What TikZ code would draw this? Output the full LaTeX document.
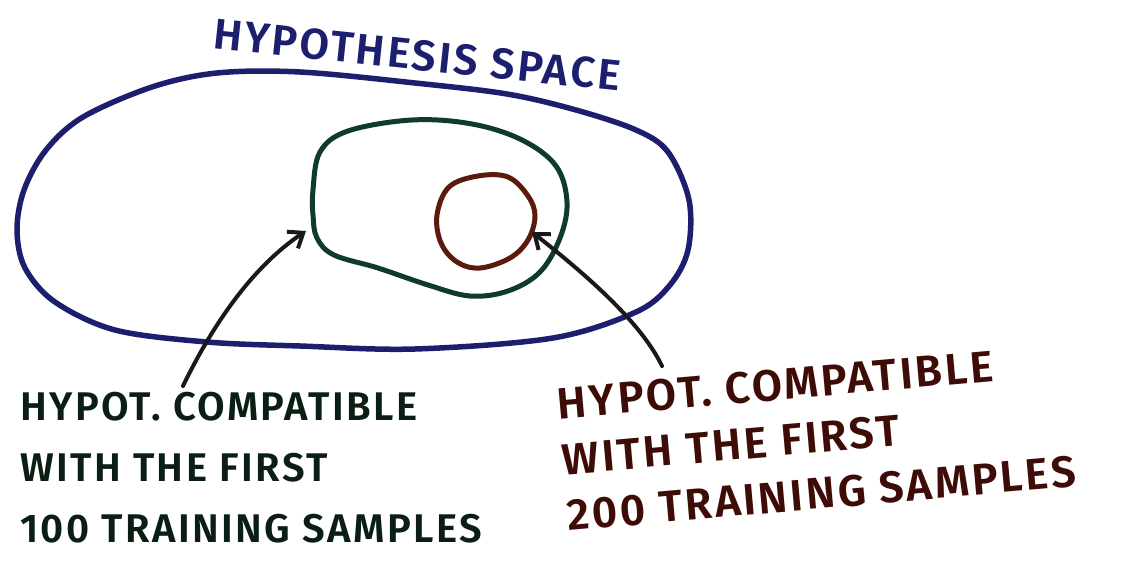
\documentclass[tikz,border=0pt]{standalone}
\usepackage{fontspec}
\setmainfont{Fira Sans}
\newfontfamily\handfont[LetterSpace=6]{Fira Sans SemiBold}
\usetikzlibrary{arrows.meta}
\definecolor{navyblue}{HTML}{1C1F6E}
\definecolor{setgreen}{HTML}{0E3B2C}
\definecolor{setred}{HTML}{5A1A0C}
\definecolor{lblgreen}{HTML}{0A1E14}
\definecolor{lblbrown}{HTML}{3E0C06}
\tikzset{
  region/.style={line width=5.5pt, line join=round},
  pointer/.style={line width=4pt, line cap=round, black!90,
    -{Straight Barb[length=13pt,width=20pt,line width=4pt]}},
  lbl/.style={align=left, inner sep=0pt},
}
\begin{document}
\begin{tikzpicture}[x=1pt,y=-1pt]
\useasboundingbox (0,0) rectangle (1127,561);
\fill[white] (0,0) rectangle (1127,561);
% outer region
\draw[region, navyblue] plot[smooth cycle, tension=0.55] coordinates {
 (17,230) (24,190) (46,150) (83,117) (152,87) (217,73) (300,72) (415,83)
 (507,94) (576,110) (636,130) (668,152) (689,200) (688,250) (670,285)
 (636,312) (553,338) (415,349) (300,346) (207,342) (115,330) (55,302) (25,268)};
% green region
\draw[region, setgreen, line width=5pt] plot[smooth cycle, tension=0.6] coordinates {
 (313,190) (320,152) (348,131) (412,120) (472,124) (522,140) (556,166)
 (567,202) (560,238) (540,272) (508,291) (470,296) (428,285) (378,268)
 (334,255) (317,238) (313,215)};
% red region
\draw[region, setred, line width=5pt] plot[smooth cycle, tension=0.6] coordinates {
 (437,215) (449,187) (478,176) (508,177) (528,196) (535,216) (528,240)
 (510,258) (480,268) (457,262) (441,243)};
% labels
\node[font=\handfont\fontsize{43}{46}\selectfont, text=navyblue, rotate=-6, inner sep=0pt]
  (title) at (417,55) {HYPOTHESIS SPACE};
\node[lbl, text=lblgreen, anchor=north west, font=\handfont\fontsize{40}{61}\selectfont]
  (lblA) at (20,392)
  {HYPOT. COMPATIBLE\\WITH THE FIRST\\100 TRAINING SAMPLES};
\node[lbl, text=lblbrown, anchor=north west, rotate=5, font=\handfont\fontsize{44}{56}\selectfont]
  (lblB) at (556,388)
  {HYPOT. COMPATIBLE\\WITH THE FIRST\\200 TRAINING SAMPLES};
% arrows
\coordinate (tipA) at (306,231);
\coordinate (tipB) at (532,232);
\coordinate (tailA) at (183,386);
\coordinate (tailB) at (662,366);
\draw[pointer] (tailA) .. controls (215,320) and (255,265) .. (tipA);
\draw[pointer] (tailB) .. controls (640,320) and (580,270) .. (tipB);
\end{tikzpicture}
\end{document}
